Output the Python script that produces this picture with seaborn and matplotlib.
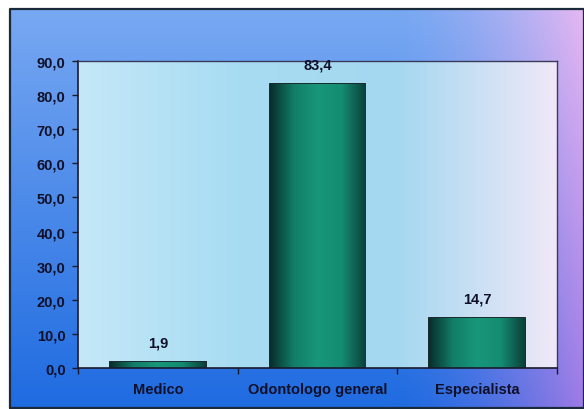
import numpy as np
import matplotlib
matplotlib.use("Agg")
import matplotlib.pyplot as plt
from matplotlib.colors import LinearSegmentedColormap
from matplotlib.ticker import FuncFormatter, FixedLocator
import seaborn as sns

# Data
categories = ["Medico", "Odontologo general", "Especialista"]
values = [1.9, 83.4, 14.7]
y_ticks = [0, 10, 20, 30, 40, 50, 60, 70, 80, 90]

sns.set_theme(style="white")
plt.rcParams['font.family'] = ['Liberation Sans', 'DejaVu Sans']
plt.rcParams['font.weight'] = 'bold'
text_color = '#101028'

fig = plt.figure(figsize=(5.84, 4.10), dpi=100, facecolor='white')

# Background frame with blue -> violet gradient
bg = fig.add_axes([0, 0, 1, 1], zorder=0)
bg.set_xlim(0, 1)
bg.set_ylim(0, 1)
bg.axis('off')
nx, ny = 300, 200
xs = np.linspace(0, 1, nx)
ys = np.linspace(0, 1, ny)[:, None]
blue_top = np.array([0.47, 0.66, 0.95])
blue_bot = np.array([0.12, 0.42, 0.88])
pink_top = np.array([0.90, 0.72, 0.95])
pink_bot = np.array([0.62, 0.48, 0.90])
mix = np.clip((xs - 0.66) / 0.34, 0, 1)[None, :, None] ** 1.6
top = blue_top * (1 - mix) + pink_top * mix
bot = blue_bot * (1 - mix) + pink_bot * mix
t = ys[:, :, None]
grad = top * (1 - t) + bot * t
fx0, fx1 = 10 / 584, 1.0
fy0, fy1 = 1 - 409 / 410, 1 - 10 / 410
bg.imshow(grad, extent=[fx0, fx1, fy0, fy1], aspect='auto', zorder=0, origin='upper')
bg.plot([fx0, fx1, fx1, fx0, fx0], [fy0, fy0, fy1, fy1, fy0], color='#1a2a3a', lw=1.6, zorder=1)

# Main plot area
ax = fig.add_axes([78 / 584, 1 - 369 / 410, 479 / 584, 307 / 410], zorder=1)
pa_cmap = LinearSegmentedColormap.from_list(
    'pa', ['#c4e8f8', '#a8dcf2', '#a4d8f0', '#f0e8f8'])
ax.imshow(np.linspace(0, 1, 256)[None, :], cmap=pa_cmap, aspect='auto',
          extent=[0, 1, 0, 1], transform=ax.transAxes, zorder=0)

sns.barplot(x=categories, y=values, ax=ax, width=0.6, color='#168e74',
            edgecolor='#0a1a1a', linewidth=1.3, zorder=2)

# shade the bars dark at the sides, lighter in the middle
bar_cmap = LinearSegmentedColormap.from_list(
    'bar', ['#082e2c', '#127e68', '#18977a', '#148c72', '#0b3f39'])
for patch in ax.patches:
    x0, y0 = patch.get_x(), patch.get_y()
    w, h = patch.get_width(), patch.get_height()
    im = ax.imshow(np.linspace(0, 1, 256)[None, :], cmap=bar_cmap, aspect='auto',
                   extent=[x0, x0 + w, y0, y0 + h], zorder=2.5)
    im.set_clip_path(patch)

for i, v in enumerate(values):
    ax.annotate(f"{v:.1f}".replace('.', ','), (i, v), xytext=(0, 9),
                textcoords='offset points', ha='center', va='bottom',
                fontsize=10.5, fontweight='bold', color=text_color)

ax.set_xlim(-0.5, 2.5)
ax.set_ylim(0, 90)
ax.set_yticks(y_ticks)
ax.yaxis.set_major_formatter(FuncFormatter(lambda v, p: f"{v:.1f}".replace('.', ',')))
ax.xaxis.set_major_locator(FixedLocator([-0.5, 0.5, 1.5, 2.5]))
ax.xaxis.set_major_formatter(FuncFormatter(lambda v, p: ''))
ax.xaxis.set_minor_locator(FixedLocator([0, 1, 2]))
ax.xaxis.set_minor_formatter(FuncFormatter(lambda v, p: categories[int(round(v))]))
ax.tick_params(axis='x', which='major', length=4, width=1, color='#1a1a2a', direction='out')
ax.tick_params(axis='x', which='minor', length=0, pad=10, labelsize=10.5, labelcolor=text_color)
ax.tick_params(axis='y', length=4, width=1, color='#1a1a2a', direction='out',
               pad=5, labelsize=10.5, labelcolor=text_color)
ax.tick_params(left=True, bottom=True)
for lab in ax.get_xticklabels(minor=True) + ax.get_yticklabels():
    lab.set_fontweight('bold')
ax.set_xlabel('')
ax.set_ylabel('')
for side in ['left', 'bottom']:
    ax.spines[side].set_color('#1a1a2a')
    ax.spines[side].set_linewidth(1.2)
for side in ['top', 'right']:
    ax.spines[side].set_color('#3a3a5a')
    ax.spines[side].set_linewidth(1.0)
ax.grid(False)

fig.savefig('out.png', dpi=100, facecolor='white')
